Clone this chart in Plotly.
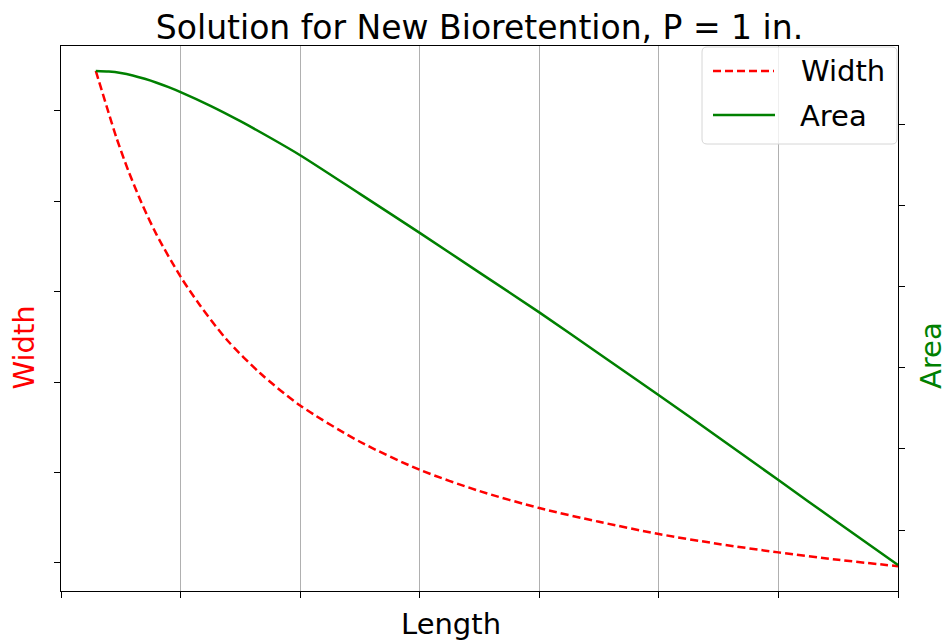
import plotly.graph_objects as go

# ---- data (arbitrary units; no tick labels shown) ----
length_w = [0.291, 0.381, 0.464, 0.562, 0.674, 0.799, 1.0, 1.162, 1.385, 1.664,
            2.0, 2.5, 3.0, 3.5, 4.0, 4.5, 5.0, 5.5, 6.0, 6.5, 7.0]
width_vals = [5.44, 5.05, 4.70, 4.34, 3.98, 3.63, 3.165, 2.85, 2.47, 2.10,
              1.741, 1.34, 1.03, 0.795, 0.607, 0.455, 0.32, 0.21, 0.117, 0.035, -0.036]
length_a = [0.291, 0.4, 0.5, 0.6, 0.7, 0.8, 0.9, 1.0, 1.25, 1.5, 1.75, 2.0, 2.5,
            3.0, 3.5, 4.0, 4.5, 5.0, 5.5, 6.0, 6.5, 7.0]
area_vals = [5.653, 5.646, 5.628, 5.598, 5.557, 5.509, 5.454, 5.393, 5.224, 5.035, 4.831,
             4.616, 4.14, 3.66, 3.17, 2.68, 2.17, 1.66, 1.14, 0.615, 0.09, -0.43]
x_ticks = [0, 1, 2, 3, 4, 5, 6, 7]
y_ticks = [0, 1, 2, 3, 4, 5]

title_text = "Solution for New Bioretention, P = 1 in."
series_names = ["Width", "Area"]
RED = "#ff0000"
GREEN = "#008000"
FONT = "DejaVu Sans"

W, H = 948, 641
L, R, T, B = 61, 50, 46, 50
pw, ph = W - L - R, H - T - B


def px(x):
    return (x - L) / pw


def py(y):
    return (H - B - y) / ph


fig = go.Figure()
fig.add_trace(go.Scatter(x=length_w, y=width_vals, name=series_names[0], mode="lines",
                         line=dict(color=RED, width=2.5, dash="8px,4px", shape="spline",
                                   smoothing=0.8),
                         yaxis="y", showlegend=False))
fig.add_trace(go.Scatter(x=length_a, y=area_vals, name=series_names[1], mode="lines",
                         line=dict(color=GREEN, width=2.5, shape="spline", smoothing=0.8),
                         yaxis="y2", showlegend=False))

axis_common = dict(showticklabels=False, ticks="outside", ticklen=6, tickwidth=1.3,
                   tickcolor="black", showline=True, linecolor="black", linewidth=1.3,
                   zeroline=False)

fig.update_layout(
    width=W, height=H,
    margin=dict(l=L, r=R, t=T, b=B, pad=0),
    paper_bgcolor="white", plot_bgcolor="white",
    font=dict(family=FONT, color="black"),
    title=dict(text=title_text, x=479.5 / W, xanchor="center",
               y=1 - 27 / H, yanchor="middle", font=dict(size=33, family=FONT)),
    xaxis=dict(range=[0, 7], tickvals=x_ticks, showgrid=True, gridcolor="#b0b0b0",
               gridwidth=1, mirror=True, **axis_common),
    yaxis=dict(range=[-0.31, 5.715], tickvals=y_ticks, showgrid=False, **axis_common),
    yaxis2=dict(range=[-0.751, 5.961], tickvals=y_ticks, showgrid=False, overlaying="y",
                side="right", **axis_common),
    showlegend=False,
)

# axis labels
fig.add_annotation(text="Length", xref="paper", yref="paper", x=px(451), y=py(624),
                   xanchor="center", yanchor="middle", showarrow=False,
                   font=dict(size=29, color="black", family=FONT))
fig.add_annotation(text="Width", xref="paper", yref="paper", x=px(24), y=py(347.5),
                   xanchor="center", yanchor="middle", textangle=-90, showarrow=False,
                   font=dict(size=29, color=RED, family=FONT))
fig.add_annotation(text="Area", xref="paper", yref="paper", x=px(931), y=py(356),
                   xanchor="center", yanchor="middle", textangle=-90, showarrow=False,
                   font=dict(size=29, color=GREEN, family=FONT))

# legend box (rounded)
x0, x1, y0, y1, r = 702, 897, 47, 144, 5
rx, ry = r / pw, r / ph
X0, X1, Y0, Y1 = px(x0), px(x1), py(y1), py(y0)
path = (f"M{X0+rx},{Y1} L{X1-rx},{Y1} Q{X1},{Y1} {X1},{Y1-ry} "
        f"L{X1},{Y0+ry} Q{X1},{Y0} {X1-rx},{Y0} L{X0+rx},{Y0} Q{X0},{Y0} {X0},{Y0+ry} "
        f"L{X0},{Y1-ry} Q{X0},{Y1} {X0+rx},{Y1} Z")
fig.add_shape(type="path", path=path, xref="paper", yref="paper",
              fillcolor="rgba(255,255,255,0.8)", line=dict(color="#d6d6d6", width=1))
fig.add_shape(type="line", xref="paper", yref="paper", x0=px(713), x1=px(774),
              y0=py(71), y1=py(71), line=dict(color=RED, width=2.5, dash="8px,4px"))
fig.add_shape(type="line", xref="paper", yref="paper", x0=px(713), x1=px(775),
              y0=py(115), y1=py(115), line=dict(color=GREEN, width=2.5))
fig.add_annotation(text=series_names[0], xref="paper", yref="paper", x=px(799), y=py(71),
                   xanchor="left", yanchor="middle", showarrow=False,
                   font=dict(size=29, color="black", family=FONT))
fig.add_annotation(text=series_names[1], xref="paper", yref="paper", x=px(798), y=py(115.5),
                   xanchor="left", yanchor="middle", showarrow=False,
                   font=dict(size=29, color="black", family=FONT))

fig.write_html("out.html")
